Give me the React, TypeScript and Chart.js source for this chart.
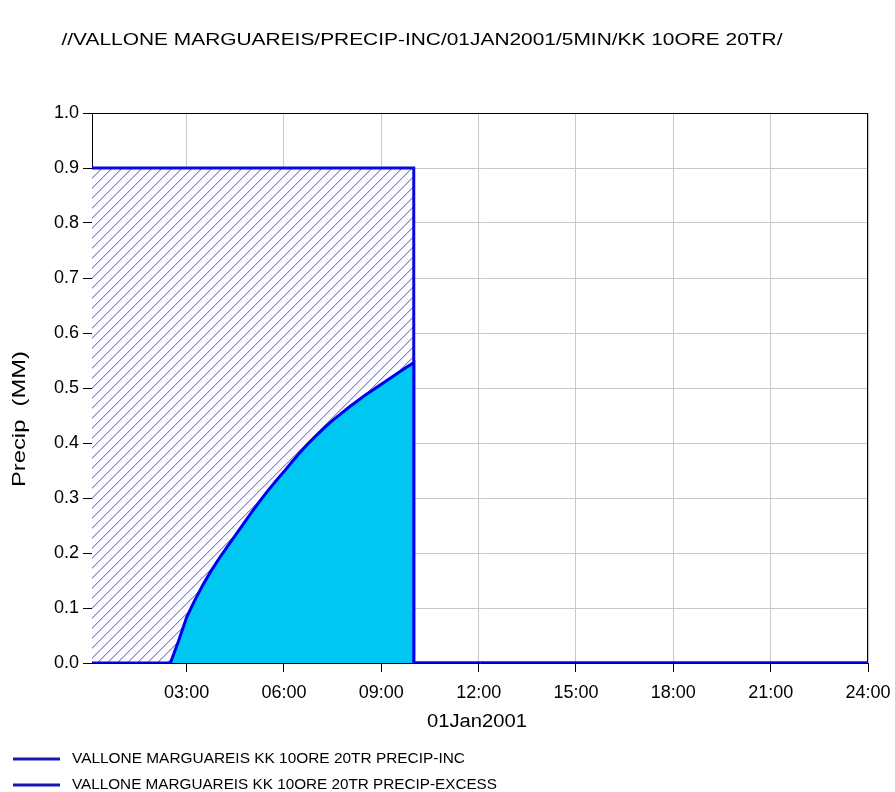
import React, { useEffect, useRef } from 'react';
import { Chart, registerables } from 'chart.js';

Chart.register(...registerables);

const titleText = '//VALLONE MARGUAREIS/PRECIP-INC/01JAN2001/5MIN/KK 10ORE 20TR/';
const xAxisTitle = '01Jan2001';
const yAxisTitle = 'Precip  (MM)';
const seriesNames = [
  'VALLONE MARGUAREIS KK 10ORE 20TR PRECIP-INC',
  'VALLONE MARGUAREIS KK 10ORE 20TR PRECIP-EXCESS',
];

const xTickHours = [3, 6, 9, 12, 15, 18, 21, 24];
const xTickLabels = ['03:00', '06:00', '09:00', '12:00', '15:00', '18:00', '21:00', '24:00'];

// PRECIP-INC (hours from 00:00, mm)
const incHours = [0.0833, 10, 10, 24];
const incValues = [0.9, 0.9, 0, 0];

// PRECIP-EXCESS (hours from 00:00, mm)
const excessHours = [
  0.0833, 2.5, 2.75, 3.0, 3.25, 3.5, 3.75, 4.0, 4.25, 4.5, 4.75, 5.0, 5.25, 5.5, 5.75,
  6.0, 6.25, 6.5, 6.75, 7.0, 7.25, 7.5, 7.75, 8.0, 8.25, 8.5, 8.75, 9.0, 9.25, 9.5, 9.75,
  10.0, 10.0, 24,
];
const excessValues = [
  0, 0, 0.04, 0.083, 0.114, 0.142, 0.167, 0.19, 0.211, 0.232, 0.253, 0.274, 0.294, 0.313, 0.331,
  0.348, 0.366, 0.383, 0.399, 0.414, 0.428, 0.441, 0.453, 0.465, 0.476, 0.487, 0.497, 0.507, 0.517, 0.527, 0.537,
  0.546, 0, 0,
];

const FONT = '"Liberation Sans", Arial, sans-serif';

function makeHatch(): CanvasPattern | string {
  const s = 10;
  const c = document.createElement('canvas');
  c.width = s;
  c.height = s;
  const g = c.getContext('2d');
  if (!g) return 'rgba(0,0,0,0)';
  g.fillStyle = 'rgb(252,252,255)';
  g.fillRect(0, 0, s, s);
  for (let i = 0; i < s; i++) {
    const y = s - 1 - i;
    g.fillStyle = 'rgb(128,128,236)';
    g.fillRect(i, y, 1, 1);
    g.fillStyle = 'rgb(200,200,246)';
    g.fillRect((i + 1) % s, y, 1, 1);
  }
  const p = g.createPattern(c, 'repeat');
  return p || 'rgba(0,0,0,0)';
}

function drawFit(
  ctx: CanvasRenderingContext2D,
  text: string,
  cx: number,
  cy: number,
  width: number,
  size: number,
  rot = 0
) {
  ctx.save();
  ctx.font = `${size}px ${FONT}`;
  const w = ctx.measureText(text).width;
  ctx.translate(cx, cy);
  ctx.rotate(rot);
  ctx.scale(width / w, 1);
  ctx.textAlign = 'center';
  ctx.textBaseline = 'middle';
  ctx.fillStyle = '#000';
  ctx.fillText(text, 0, 0);
  ctx.restore();
}

const framePlugin = {
  id: 'frame',
  beforeDatasetsDraw(chart: any) {
    const { ctx, chartArea } = chart;
    ctx.save();
    ctx.strokeStyle = '#000';
    ctx.lineWidth = 1;
    ctx.beginPath();
    ctx.moveTo(chartArea.left, chartArea.top + 0.5);
    ctx.lineTo(chartArea.right, chartArea.top + 0.5);
    ctx.moveTo(chartArea.right - 0.5, chartArea.top);
    ctx.lineTo(chartArea.right - 0.5, chartArea.bottom);
    ctx.stroke();
    ctx.restore();
  },
  afterDraw(chart: any) {
    const { ctx } = chart;
    drawFit(ctx, titleText, 422, 40, 721, 17);
    drawFit(ctx, xAxisTitle, 477, 722, 100, 18);
    drawFit(ctx, yAxisTitle, 20, 419, 136, 18, -Math.PI / 2);
    const rows = [759, 785];
    const widths = [393, 425];
    rows.forEach((y, i) => {
      ctx.save();
      ctx.strokeStyle = '#1616b4';
      ctx.lineWidth = 3;
      ctx.beginPath();
      ctx.moveTo(13, y);
      ctx.lineTo(60, y);
      ctx.stroke();
      ctx.restore();
      drawFit(ctx, seriesNames[i], 72 + widths[i] / 2, y, widths[i], 14);
    });
  },
};

export default function App() {
  const ref = useRef<HTMLCanvasElement>(null);

  useEffect(() => {
    if (!ref.current) return;
    const hatch = makeHatch();
    const chart = new Chart(ref.current, {
      type: 'line',
      data: {
        datasets: [
          {
            label: seriesNames[1],
            data: excessHours.map((h, i) => ({ x: h, y: excessValues[i] })),
            borderColor: '#0000f0',
            backgroundColor: '#00c6f2',
            borderWidth: 3,
            fill: 'origin',
            pointRadius: 0,
            tension: 0,
            order: 1,
          },
          {
            label: seriesNames[0],
            data: incHours.map((h, i) => ({ x: h, y: incValues[i] })),
            borderColor: '#0808e0',
            backgroundColor: hatch as any,
            borderWidth: 3,
            fill: 'origin',
            pointRadius: 0,
            tension: 0,
            order: 2,
          },
        ],
      },
      options: {
        responsive: false,
        animation: false,
        layout: { padding: { top: 113, right: 27, left: 0, bottom: 0 } },
        plugins: {
          legend: { display: false },
          title: { display: false },
          tooltip: { enabled: false },
        },
        scales: {
          x: {
            type: 'linear',
            min: 5 / 60,
            max: 24,
            afterBuildTicks: (scale: any) => {
              scale.ticks = xTickHours.map((v) => ({ value: v }));
            },
            afterFit: (scale: any) => {
              scale.height = 792 - 663;
              scale.paddingRight = 0;
              scale.paddingLeft = 0;
            },
            ticks: {
              autoSkip: false,
              maxRotation: 0,
              padding: 10,
              color: '#000',
              font: { family: FONT, size: 18 },
              callback: (v: any) => {
                const i = xTickHours.indexOf(Number(v));
                return i >= 0 ? xTickLabels[i] : '';
              },
            },
            grid: { color: '#c8c8c8', tickColor: '#000', tickLength: 9, lineWidth: 1 },
            border: { color: '#000', width: 1 },
          },
          y: {
            type: 'linear',
            min: 0,
            max: 1,
            afterFit: (scale: any) => {
              scale.width = 92;
              scale.paddingTop = 0;
              scale.paddingBottom = 0;
            },
            ticks: {
              stepSize: 0.1,
              padding: 4,
              color: '#000',
              font: { family: FONT, size: 18 },
              callback: (v: any) => Number(v).toFixed(1),
            },
            grid: { color: '#c8c8c8', tickColor: '#000', tickLength: 9, lineWidth: 1 },
            border: { color: '#000', width: 1 },
          },
        },
      },
      plugins: [framePlugin],
    });
    return () => chart.destroy();
  }, []);

  return (
    <div style={{ position: 'fixed', left: 0, top: 0, width: 895, height: 792, background: '#fff' }}>
      <canvas ref={ref} width={895} height={792} />
    </div>
  );
}
